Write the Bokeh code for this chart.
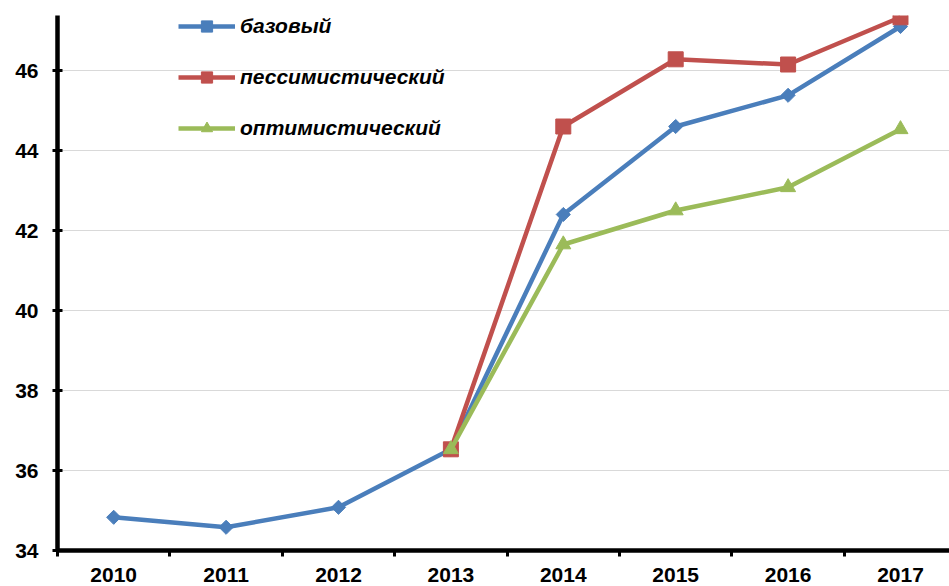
from bokeh.plotting import figure
from bokeh.models import Range1d, FixedTicker, Legend, LegendItem
from bokeh.embed import file_html
from bokeh.resources import INLINE

years = ["2010", "2011", "2012", "2013", "2014", "2015", "2016", "2017"]
base_x = [0, 1, 2, 3, 4, 5, 6, 7]
base_y = [34.83, 34.58, 35.08, 36.53, 42.40, 44.60, 45.38, 47.10]
pess_x = [3, 4, 5, 6, 7]
pess_y = [36.53, 44.60, 46.28, 46.15, 47.33]
opt_x = [3, 4, 5, 6, 7]
opt_y = [36.53, 41.65, 42.50, 43.08, 44.53]
y_ticks = [34, 36, 38, 40, 42, 44, 46]
labels = ["базовый", "пессимистический", "оптимистический"]

BLUE = "#4A7EBB"
RED = "#C0504D"
GREEN = "#9BBB59"
FONT = "Liberation Sans"

p = figure(width=949, height=586, output_backend="svg", toolbar_location=None,
           x_range=Range1d(-0.5, 7.436), y_range=Range1d(34, 47.375),
           min_border_left=57, min_border_right=0, min_border_top=15, min_border_bottom=36)
p.outline_line_color = None
p.xgrid.grid_line_color = None
p.ygrid.grid_line_color = "#D9D9D9"
p.ygrid.grid_line_width = 1.2
p.ygrid.ticker = FixedTicker(ticks=y_ticks[1:])

# x axis
p.xaxis.ticker = FixedTicker(ticks=base_x, minor_ticks=[i - 0.5 for i in range(9)])
p.xaxis.major_label_overrides = {i: years[i] for i in base_x}
p.xaxis.major_tick_line_color = None
p.xaxis.major_tick_out = 0
p.xaxis.major_tick_in = 0
p.xaxis.minor_tick_line_color = "black"
p.xaxis.minor_tick_line_width = 3
p.xaxis.minor_tick_out = 6
p.xaxis.minor_tick_in = 0
p.xaxis.axis_line_width = 4.5
p.xaxis.axis_line_color = "black"
p.xaxis.major_label_text_font = FONT
p.xaxis.major_label_text_font_style = "bold"
p.xaxis.major_label_text_font_size = "21px"
p.xaxis.major_label_text_color = "black"
p.xaxis.major_label_standoff = 11

# y axis
p.yaxis.ticker = FixedTicker(ticks=y_ticks, minor_ticks=[])
p.yaxis.axis_line_width = 4.5
p.yaxis.axis_line_color = "black"
p.yaxis.major_tick_line_width = 3
p.yaxis.major_tick_line_color = "black"
p.yaxis.major_tick_in = 5
p.yaxis.major_tick_out = 5
p.yaxis.minor_tick_line_color = None
p.yaxis.major_label_text_font = FONT
p.yaxis.major_label_text_font_style = "bold"
p.yaxis.major_label_text_font_size = "21px"
p.yaxis.major_label_text_color = "black"
p.yaxis.major_label_standoff = 14

r1l = p.line(base_x, base_y, line_color=BLUE, line_width=4.5)
r1m = p.scatter(base_x, base_y, marker="square", angle=0.7854, size=10, fill_color=BLUE, line_color=BLUE)
r2l = p.line(pess_x, pess_y, line_color=RED, line_width=4.5)
r2m = p.scatter(pess_x, pess_y, marker="square", size=15, fill_color=RED, line_color=RED)
r3l = p.line(opt_x, opt_y, line_color=GREEN, line_width=4.5)
r3m = p.scatter(opt_x, opt_y, marker="triangle", size=15, fill_color=GREEN, line_color=GREEN)

legend = Legend(items=[
    LegendItem(label=labels[0], renderers=[r1l, r1m]),
    LegendItem(label=labels[1], renderers=[r2l, r2m]),
    LegendItem(label=labels[2], renderers=[r3l, r3m]),
], location=(121, 408))
legend.background_fill_alpha = 0
legend.border_line_color = None
legend.padding = 0
legend.margin = 0
legend.spacing = 23
legend.glyph_width = 57
legend.glyph_height = 28
legend.label_height = 28
legend.label_standoff = 5
legend.label_text_font = FONT
legend.label_text_font_style = "bold italic"
legend.label_text_font_size = "21px"
legend.label_text_color = "black"
p.add_layout(legend, "center")

open("out.html", "w").write(file_html(p, INLINE))
